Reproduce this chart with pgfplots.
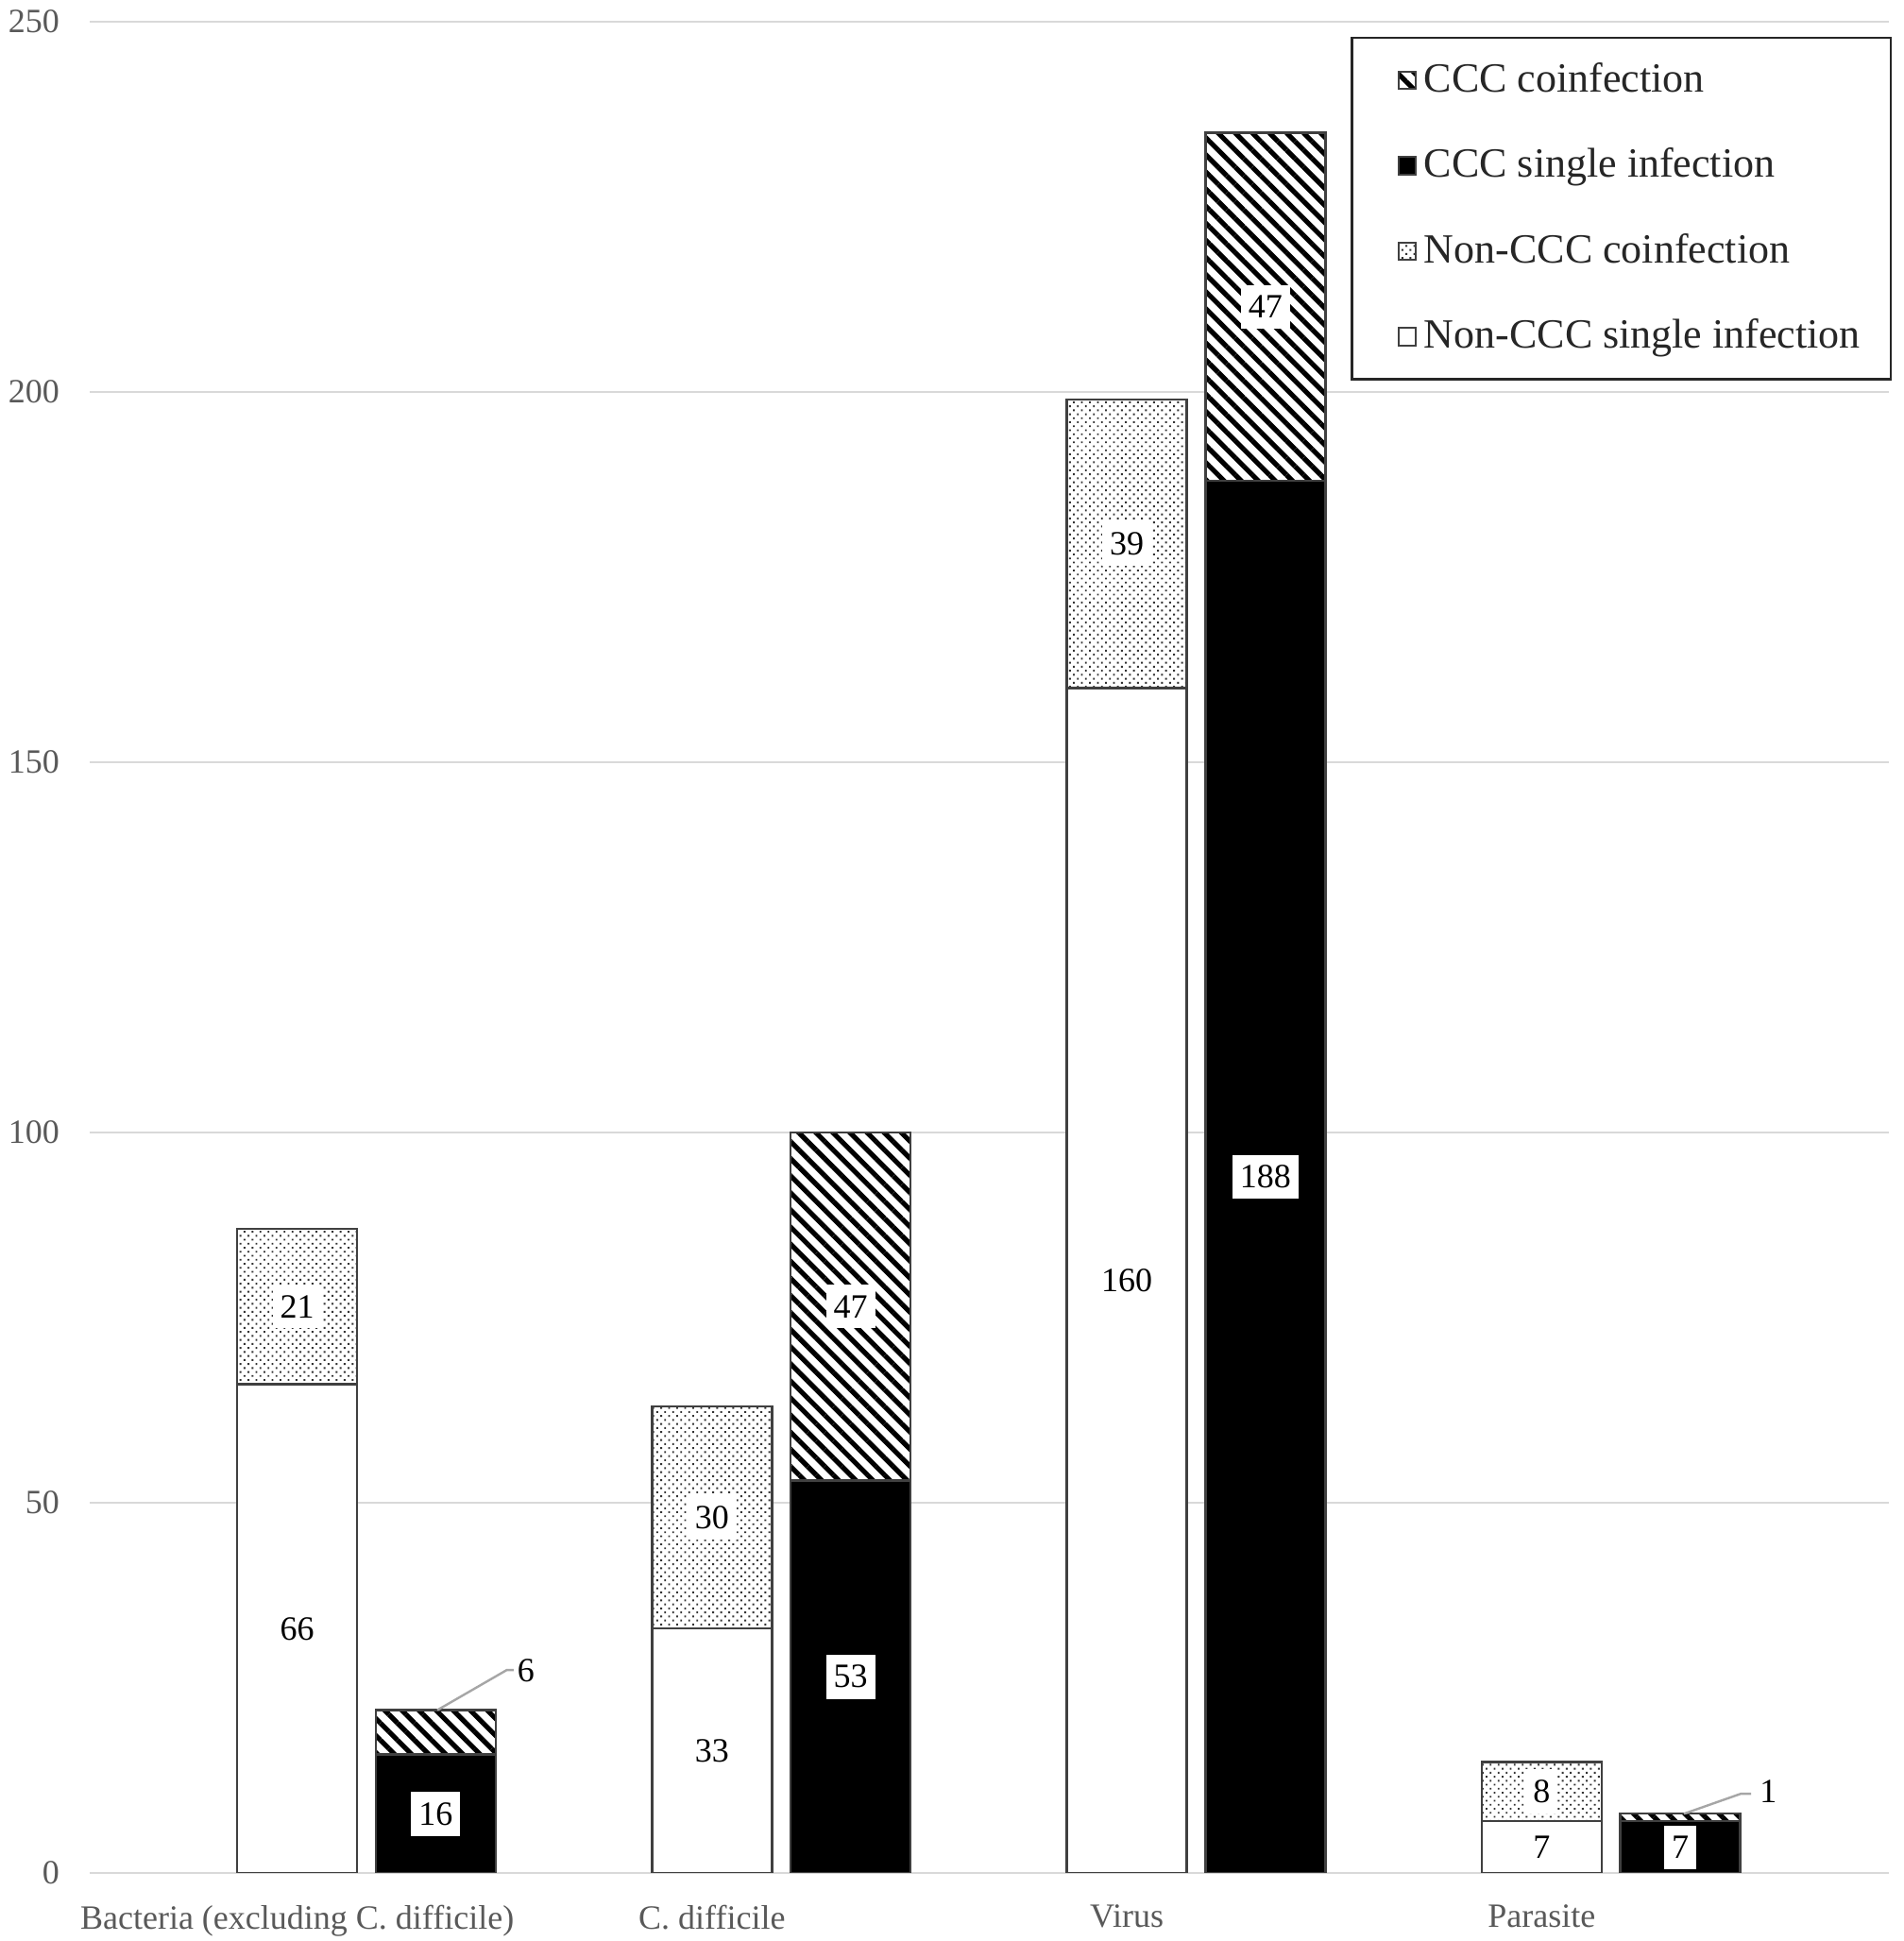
\documentclass[border=0pt]{standalone}
\usepackage{pgfplots}
\pgfplotsset{compat=1.18}
\usepackage{fontspec}
\setmainfont{Liberation Serif}
\usetikzlibrary{patterns.meta}

\definecolor{gridgray}{HTML}{D9D9D9}
\definecolor{txtgray}{HTML}{595959}
\definecolor{bordergray}{HTML}{404040}
\definecolor{leadgray}{HTML}{A6A6A6}

\pgfplotsset{
  sqleg/.style={legend image code/.code={\path (-6pt,0pt); \draw[##1, draw=bordergray, line width=0.5pt] (0pt,-2.3pt) rectangle (4.6pt,2.3pt);}},
  dotfill/.style={fill=white, postaction={pattern={Dots[distance=1.5pt,radius=0.34pt,angle=45]}, pattern color=black!80}},
  hatchfill/.style={fill=white, postaction={pattern={Lines[angle=-45,distance=3.2pt,line width=1.3pt]}, pattern color=black}},
  common/.style={scale only axis, width=476.25pt, height=490pt, xmin=-0.5, xmax=3.837, ymin=0, ymax=250}
}

\begin{document}
\begin{tikzpicture}
\useasboundingbox (-23.75pt,-18pt) rectangle (480pt,495.75pt);
\begin{axis}[common,
  ybar stacked, bar width=0.289,
  axis line style={draw=none},
  major tick length=0pt,
  ymajorgrids, grid style={gridgray, line width=0.5pt},
  ytick={0,50,100,150,200,250},
  xtick={0,1,2,3},
  xticklabels={Bacteria (excluding C. difficile), C. difficile, Virus, Parasite},
  ticklabel style={font=\fontsize{9}{11}\selectfont, text=txtgray},
  /pgf/number format/assume math mode=true,
  yticklabel style={xshift=-4.5pt},
  xticklabel style={yshift=-5pt},
  reverse legend,
  legend cell align=left,
  legend style={at={(1.0016,0.992)}, anchor=north east, draw=black!85, line width=0.6pt,
    font=\fontsize{11}{13}\selectfont, text=black!85, row sep=9.4pt,
    inner xsep=6pt, inner ysep=4.6pt, cells={anchor=west}},
]
\addplot[sqleg, fill=white, draw=bordergray, line width=0.6pt]
  coordinates {(0,66) (0.334,0) (1,33) (1.334,0) (2,160) (2.334,0) (3,7) (3.334,0)};
\addlegendentry{Non-CCC single infection}
\addplot[sqleg, dotfill, draw=bordergray, line width=0.6pt]
  coordinates {(0,21) (0.334,0) (1,30) (1.334,0) (2,39) (2.334,0) (3,8) (3.334,0)};
\addlegendentry{Non-CCC coinfection}
\addplot[sqleg, fill=black, draw=bordergray, line width=0.6pt]
  coordinates {(0,0) (0.334,16) (1,0) (1.334,53) (2,0) (2.334,188) (3,0) (3.334,7)};
\addlegendentry{CCC single infection}
\addplot[sqleg, hatchfill, draw=bordergray, line width=0.6pt]
  coordinates {(0,0) (0.334,6) (1,0) (1.334,47) (2,0) (2.334,47) (3,0) (3.334,1)};
\addlegendentry{CCC coinfection}
\end{axis}

\begin{axis}[common, hide axis, clip=false]
\addplot[draw=none, mark=none, nodes near coords, point meta=explicit symbolic,
  nodes near coords align=center,
  every node near coord/.append style={fill=white, inner xsep=2pt, inner ysep=2.8pt,
    font=\fontsize{9}{11}\selectfont, text=black}]
  coordinates {(0,33)[66] (0,76.5)[21] (0.334,8)[16] (1,16.5)[33] (1,48)[30]
    (1.334,26.5)[53] (1.334,76.5)[47] (2,80)[160] (2,179.5)[39] (2.334,94)[188]
    (2.334,211.5)[47] (3,3.5)[7] (3,11)[8] (3.334,3.5)[7]};
\addplot[leadgray, line width=0.6pt, mark=none]
  coordinates {(0.338,22) (0.505,27.4) (0.522,27.4)};
\addplot[leadgray, line width=0.6pt, mark=none]
  coordinates {(3.343,8) (3.48,10.7) (3.505,10.7)};
\addplot[draw=none, mark=none, nodes near coords, point meta=explicit symbolic,
  every node near coord/.append style={anchor=west, inner sep=0pt,
    font=\fontsize{9}{11}\selectfont, text=black}]
  coordinates {(0.529,27.3)[6] (3.524,11)[1]};
\end{axis}
\end{tikzpicture}
\end{document}
